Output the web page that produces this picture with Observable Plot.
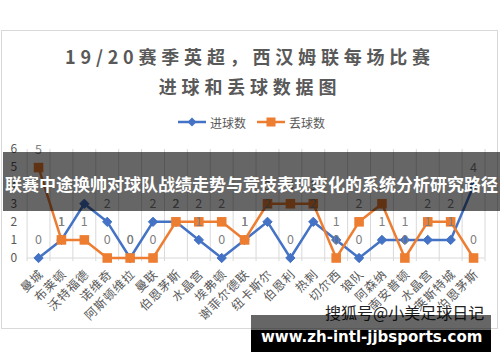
<!DOCTYPE html>
<html>
<head>
<meta charset="utf-8">
<script src="https://cdn.jsdelivr.net/npm/d3@7"></script>
<script src="https://cdn.jsdelivr.net/npm/@observablehq/plot@0.6"></script>
<style>
  html, body { margin: 0; padding: 0; background: #fff; }
  #wrap { position: relative; width: 500px; height: 362px; overflow: hidden; font-family: "Noto Sans CJK SC", "Noto Sans", sans-serif; }
  #frame { position: absolute; left: 1px; top: 30px; width: 497px; height: 299px; border: 1px solid #d9d9d9; box-sizing: border-box; }
  .title { position: absolute; left: 0; width: 500px; text-align: center; color: #595959; font-weight: bold; font-size: 18px; letter-spacing: 4.8px; }
  #legend { position: absolute; top: 113px; left: 0; width: 500px; height: 18px; font-size: 12px; color: #595959; }
  .li { position: absolute; top: 0; display: flex; align-items: center; height: 18px; }
  #chart { position: absolute; left: 0; top: 0; }
  #banner { position: absolute; left: 3px; top: 152px; width: 497px; height: 59px; background: rgba(0,0,0,0.6); color: #fff; font-weight: bold; font-size: 17px; text-align: center; line-height: 64px; white-space: nowrap; }
  #wm { position: absolute; left: 325px; top: 300px; font-size: 16px; color: #222; white-space: nowrap; letter-spacing: 0px;
        text-shadow: 1px 0 #fff, -1px 0 #fff, 0 1px #fff, 0 -1px #fff; }
  #gband { position: absolute; left: 251px; top: 315px; width: 240px; height: 15px; background: rgba(0,0,0,0.6); }
  #bband { position: absolute; left: 251px; top: 330px; width: 240px; height: 22px; background: #000; color: #fff; font-family: "DejaVu Sans", sans-serif; font-weight: bold; font-size: 15px; line-height: 14px; padding-left: 10px; box-sizing: border-box; white-space: nowrap; }
</style>
</head>
<body>
<div id="wrap">
  <div id="frame"></div>
  <div class="title" style="top:43px;line-height:26px;">19/20赛季英超，西汉姆联每场比赛</div>
  <div class="title" style="top:73px;line-height:26px;">进球和丢球数据图</div>
  <div id="legend"></div>
  <div id="chart"></div>
  <div id="banner">联赛中途换帅对球队战绩走势与竞技表现变化的系统分析研究路径</div>
  <div id="wm">搜狐号@小美足球日记</div>
  <div id="gband"></div>
  <div id="bband">www.zh-intl-jjbsports.com</div>
</div>
<script>
// ---- data ----
const opponents = ["曼城","布莱顿","沃特福德","诺维奇","阿斯顿维拉","曼联","伯恩茅斯","水晶宫","埃弗顿","谢菲尔德联","纽卡斯尔","伯恩利","热刺","切尔西","狼队","阿森纳","南安普顿","水晶宫","莱斯特城","伯恩茅斯"];
const goalsFor     = [0,1,3,2,0,2,2,1,0,1,2,0,2,1,0,1,1,1,1,4];
const goalsAgainst = [5,1,1,0,0,0,2,2,2,1,3,3,3,0,2,3,0,2,2,0];
const yTicks = [0,1,2,3,4,5,6];
const seriesNames = ["进球数","丢球数"];
const blue = "#4472C4", orange = "#ED7D31";

const idx = d3.range(opponents.length);
const boundaries = d3.range(opponents.length + 1).map(i => i - 0.5);

const chart = Plot.plot({
  width: 500,
  height: 362,
  marginTop: 149,
  marginBottom: 104.5,
  marginLeft: 26.6,
  marginRight: 15.5,
  style: { fontFamily: "'Noto Sans CJK SC', sans-serif", background: "transparent", overflow: "visible" },
  x: { type: "linear", domain: [-0.5, opponents.length - 0.5] },
  y: { domain: [0, 6] },
  marks: [
    Plot.ruleX(boundaries, { x: d => d, y1: -0.2, y2: 6, stroke: "#d9d9d9", strokeWidth: 1 }),
    Plot.ruleY([0], { stroke: "#d9d9d9", strokeWidth: 1 }),
    Plot.axisY({ ticks: yTicks, tickSize: 0, tickPadding: 10, fontSize: 12, fill: "#595959", tickFormat: d => String(d) }),
    Plot.axisX(idx, { tickFormat: i => opponents[i], tickRotate: -45, tickSize: 0, tickPadding: 14, dx: 3, fontSize: 12, fill: "#595959", label: null }),
    Plot.lineY(goalsFor, { x: (d, i) => i, y: d => d, stroke: blue, strokeWidth: 2.5 }),
    Plot.dot(goalsFor, { x: (d, i) => i, y: d => d, symbol: "diamond2", r: 4.2, fill: blue, stroke: blue, strokeWidth: 1 }),
    Plot.lineY(goalsAgainst, { x: (d, i) => i, y: d => d, stroke: orange, strokeWidth: 2.5 }),
    Plot.dot(goalsAgainst, { x: (d, i) => i, y: d => d, symbol: "square", r: 5.4, fill: orange }),
    Plot.text(goalsFor, { x: (d, i) => i, y: d => d, text: d => String(d), dy: -18, fill: "#7f7f7f", fontSize: 12.5 }),
    Plot.text(goalsAgainst, { x: (d, i) => i, y: d => d, text: d => String(d), dy: -18, fill: "#7f7f7f", fontSize: 12.5 })
  ]
});
chart.querySelectorAll("g[aria-label='x-axis tick label'] text").forEach(t => t.setAttribute("letter-spacing", "1"));
document.getElementById("chart").appendChild(chart);

// legend
const legend = document.getElementById("legend");
const items = [
  { name: seriesNames[0], color: blue, left: 178, shape: "diamond" },
  { name: seriesNames[1], color: orange, left: 257, shape: "square" }
];
items.forEach(it => {
  const div = document.createElement("div");
  div.className = "li";
  div.style.left = it.left + "px";
  const marker = it.shape === "diamond"
    ? `<path d="M14,4.5 L18.5,9 L14,13.5 L9.5,9Z" fill="${it.color}"/>`
    : `<rect x="9.5" y="4.5" width="9" height="9" fill="${it.color}"/>`;
  div.innerHTML = `<svg width="29" height="18"><line x1="0" x2="28" y1="9" y2="9" stroke="${it.color}" stroke-width="2.5"/>${marker}</svg><span style="margin-left:3px">${it.name}</span>`;
  legend.appendChild(div);
});
</script>
</body>
</html>
